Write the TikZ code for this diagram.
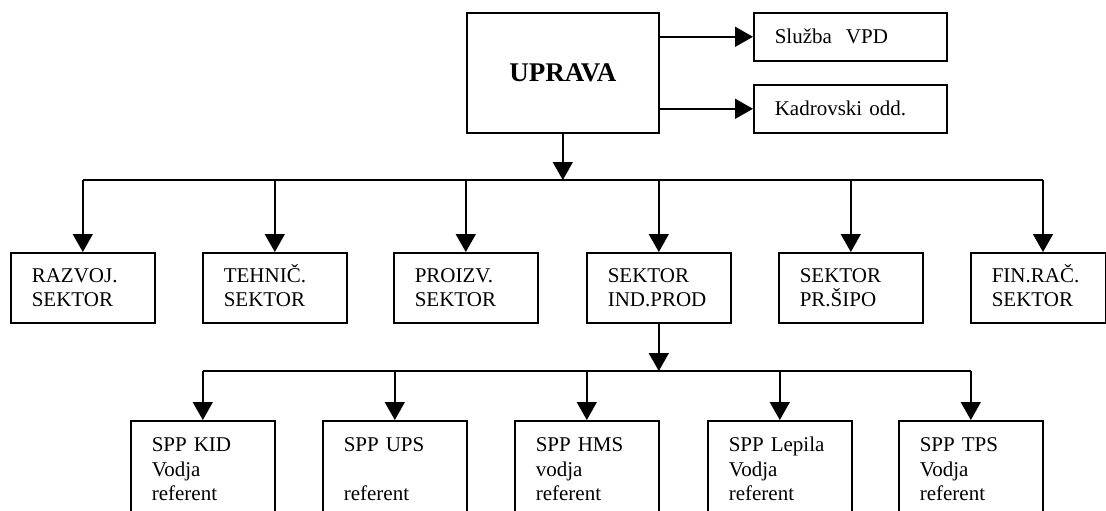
\documentclass[tikz,border=0pt]{standalone}
\usepackage{fontspec}
\setmainfont{Liberation Serif}
\usetikzlibrary{arrows.meta}
\newcommand{\ls}{\rule[-5.5pt]{0pt}{24.5pt}}
\begin{document}
\begin{tikzpicture}[x=1pt,y=-1pt,line width=1.6pt,
  box/.style={draw,rectangle,anchor=north west,inner xsep=21pt,align=left,
    font=\fontsize{21}{24.5}\selectfont},
  sect/.style={box,text width=102pt,inner ysep=0pt,minimum height=70pt},
  sub/.style={box,text width=102pt,inner ysep=14pt},
  side/.style={box,text width=151pt,inner ysep=12pt,text height=19pt,text depth=5pt},
  arr/.style={-{Triangle[length=18pt,width=20pt]}}]
\clip (0,0) rectangle (1106,511);
% top
\node[draw,rectangle,anchor=north west,minimum width=192pt,minimum height=120pt,
  font=\fontsize{27}{30}\bfseries\selectfont] (upr) at (466,12) {UPRAVA};
\node[side] (vpd) at (753,12) {Služba\ \ VPD};
\node[side] (kad) at (753,84) {Kadrovski odd.};
\draw[arr] (upr.east |- vpd.west) -- (vpd.west);
\draw[arr] (upr.east |- kad.west) -- (kad.west);
% sectors
\node[sect] (s1) at (10,252) {\ls RAZVOJ.\\\ls SEKTOR};
\node[sect] (s2) at (202,252) {\ls TEHNIČ.\\\ls SEKTOR};
\node[sect] (s3) at (393,252) {\ls PROIZV.\\\ls SEKTOR};
\node[sect] (s4) at (586,252) {\ls SEKTOR\\\ls IND.PROD};
\node[sect] (s5) at (778,252) {\ls SEKTOR\\\ls PR.ŠIPO};
\node[sect,text width=93pt] (s6) at (970,252) {\ls FIN.RAČ.\\\ls SEKTOR};
\coordinate (busU) at (562,180);
\coordinate (a6) at (1043,180);
\draw[arr] (upr.south) -- (upr.south |- busU);
\draw (s1.north |- busU) -- (a6);
\foreach \n in {s1,s2,s3,s4,s5}{\draw[arr] (\n.north |- busU) -- (\n.north);}
\draw[arr] (a6) -- (a6 |- s6.north);
% sub units
\node[sub] (b1) at (130,420) {\strut SPP KID\\\strut Vodja\\\strut referent};
\node[sub] (b2) at (322,420) {\strut SPP UPS\\\strut \\\strut referent};
\node[sub] (b3) at (514,420) {\strut SPP HMS\\\strut vodja\\\strut referent};
\node[sub] (b4) at (707,420) {\strut SPP Lepila\\\strut Vodja\\\strut referent};
\node[sub] (b5) at (898,420) {\strut SPP TPS\\\strut Vodja\\\strut referent};
\coordinate (busL) at (658,371);
\draw[arr] (s4.south) -- (s4.south |- busL);
\draw (b1.north |- busL) -- (b5.north |- busL);
\foreach \n in {b1,b2,b3,b4,b5}{\draw[arr] (\n.north |- busL) -- (\n.north);}
\end{tikzpicture}
\end{document}
